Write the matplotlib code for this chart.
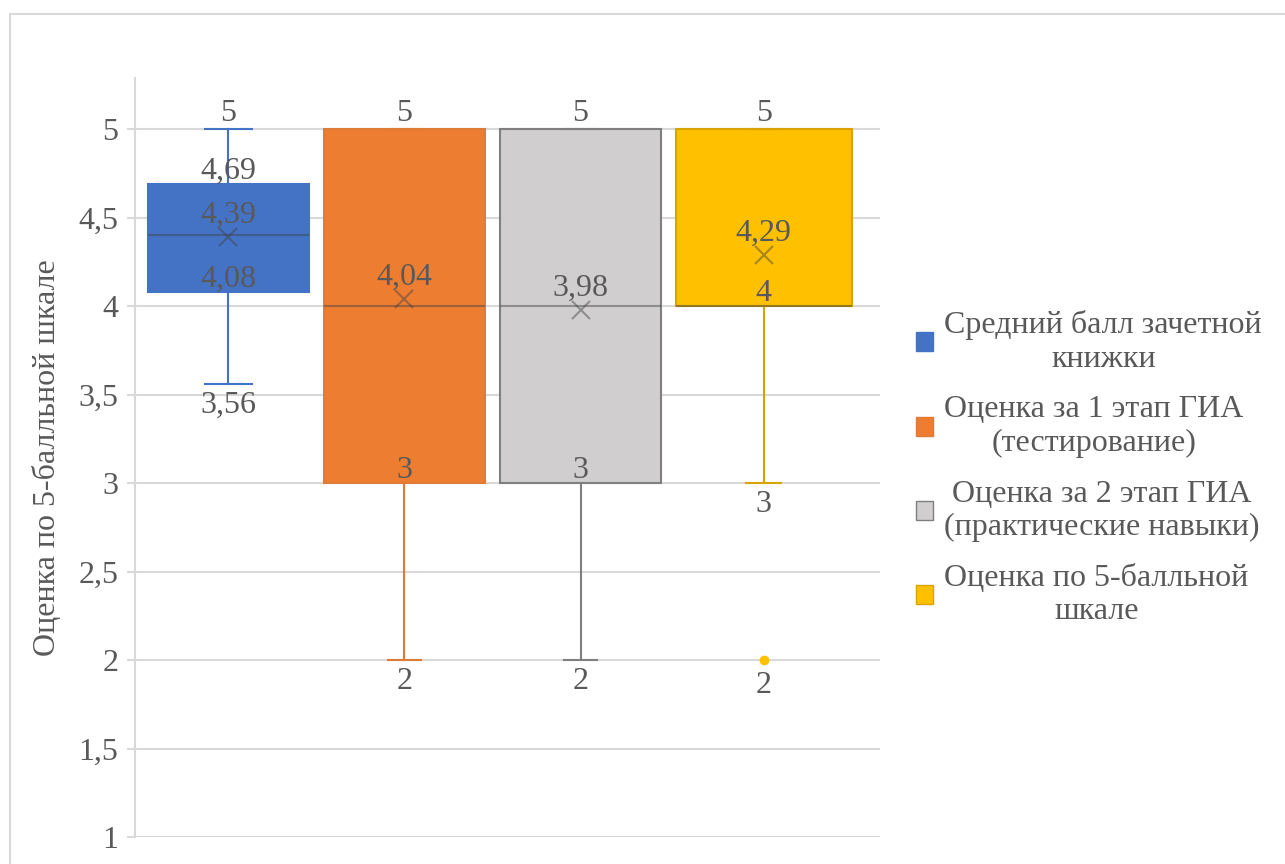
import matplotlib
matplotlib.use('Agg')
import matplotlib.pyplot as plt
from matplotlib.patches import Rectangle, Patch

plt.rcParams['font.family'] = ['Liberation Serif', 'DejaVu Serif']

groups = ['Средний балл зачетной\nкнижки',
          'Оценка за 1 этап ГИА\n(тестирование)',
          'Оценка за 2 этап ГИА\n(практические навыки)',
          'Оценка по 5-балльной\nшкале']
mins = [3.56, 2, 2, 3]
q1s = [4.08, 3, 3, 4]
medians = [4.40, 4, 4, 4]
q3s = [4.69, 5, 5, 5]
maxs = [5, 5, 5, 5]
means = [4.39, 4.04, 3.98, 4.29]
outliers = [[], [], [], [2]]

fills = ['#4472C4', '#ED7D31', '#D0CECE', '#FFC000']
edges = ['#4472C4', '#E07B35', '#7F7F7F', '#D9A300']
positions = [0, 1, 2, 3.04]
widths = [0.915, 0.915, 0.915, 1.0]
caps = [0.27, 0.19, 0.19, 0.2]

txt = '#595959'
grid = '#D9D9D9'

fig = plt.figure(figsize=(12.85, 8.64), dpi=100)
fig.patches.append(Rectangle((10 / 1285, -0.1), 1.2, 1.1 - 14 / 864, transform=fig.transFigure,
                             fill=False, edgecolor=grid, lw=1.5))
ax = fig.add_axes([135 / 1285, 1 - 837 / 864, 745 / 1285, (837 - 78) / 864])


def fmt(v):
    return f'{v:g}'.replace('.', ',')


for i in range(len(groups)):
    st = dict(whislo=mins[i], q1=q1s[i], med=medians[i], q3=q3s[i], whishi=maxs[i],
              mean=means[i], fliers=outliers[i])
    ax.bxp([st], positions=[positions[i]], widths=[widths[i]], capwidths=[caps[i]],
           patch_artist=True, showmeans=True, manage_ticks=False,
           boxprops=dict(facecolor=fills[i], edgecolor=edges[i], lw=1.5),
           whiskerprops=dict(color=edges[i], lw=1.5),
           capprops=dict(color=edges[i], lw=1.5),
           medianprops=dict(color='#404040', alpha=0.45, lw=1.5),
           meanprops=dict(marker='x', markersize=13, markeredgewidth=1.5,
                          markeredgecolor='#404040', alpha=0.45),
           flierprops=dict(marker='o', markersize=6, markerfacecolor=fills[i],
                           markeredgecolor=fills[i]))

    x = positions[i]
    above = [maxs[i]]
    if q3s[i] != maxs[i]:
        above.append(q3s[i])
    above.append(q1s[i])
    for v in above:
        dy = 1 if v == maxs[i] else -1
        ax.annotate(fmt(v), (x, v), xytext=(0, dy), textcoords='offset points',
                    ha='center', va='bottom', fontsize=23, color=txt)
    ax.annotate(fmt(means[i]), (x, means[i]), xytext=(0, 5), textcoords='offset points',
                ha='center', va='bottom', fontsize=23, color=txt)
    ax.annotate(fmt(mins[i]), (x, mins[i]), xytext=(0, -5), textcoords='offset points',
                ha='center', va='top', fontsize=23, color=txt)
    for v in outliers[i]:
        ax.annotate(fmt(v), (x, v), xytext=(0, -8), textcoords='offset points',
                    ha='center', va='top', fontsize=23, color=txt)

ax.set_xlim(-0.53, 3.70)
ax.set_ylim(1, 5.29)
ax.set_yticks([1, 1.5, 2, 2.5, 3, 3.5, 4, 4.5, 5])
ax.set_yticklabels([fmt(t) for t in [1, 1.5, 2, 2.5, 3, 3.5, 4, 4.5, 5]])
ax.set_xticks([])
ax.tick_params(axis='y', colors=grid, length=6, width=1.5, labelsize=23,
               labelcolor=txt, pad=6)
ax.yaxis.grid(True, color=grid, lw=1.5)
ax.set_axisbelow(True)
for s in ['top', 'right', 'bottom']:
    ax.spines[s].set_visible(False)
ax.spines['left'].set_color(grid)
ax.spines['left'].set_linewidth(1.5)
ax.set_ylabel('Оценка по 5-балльной шкале', fontsize=23, color=txt, labelpad=12)

handles = [Patch(facecolor=fills[i], edgecolor=edges[i], lw=1) for i in range(len(groups))]
leg = fig.legend(handles, groups, loc='center left', bbox_to_anchor=(887 / 1285, 0.458),
                 frameon=False, fontsize=23, handlelength=0.55, handleheight=0.55,
                 handletextpad=0.35, labelspacing=0.68, labelcolor=txt)
for t in leg.get_texts():
    t.set_multialignment('center')

fig.savefig('out.png', dpi=100)
